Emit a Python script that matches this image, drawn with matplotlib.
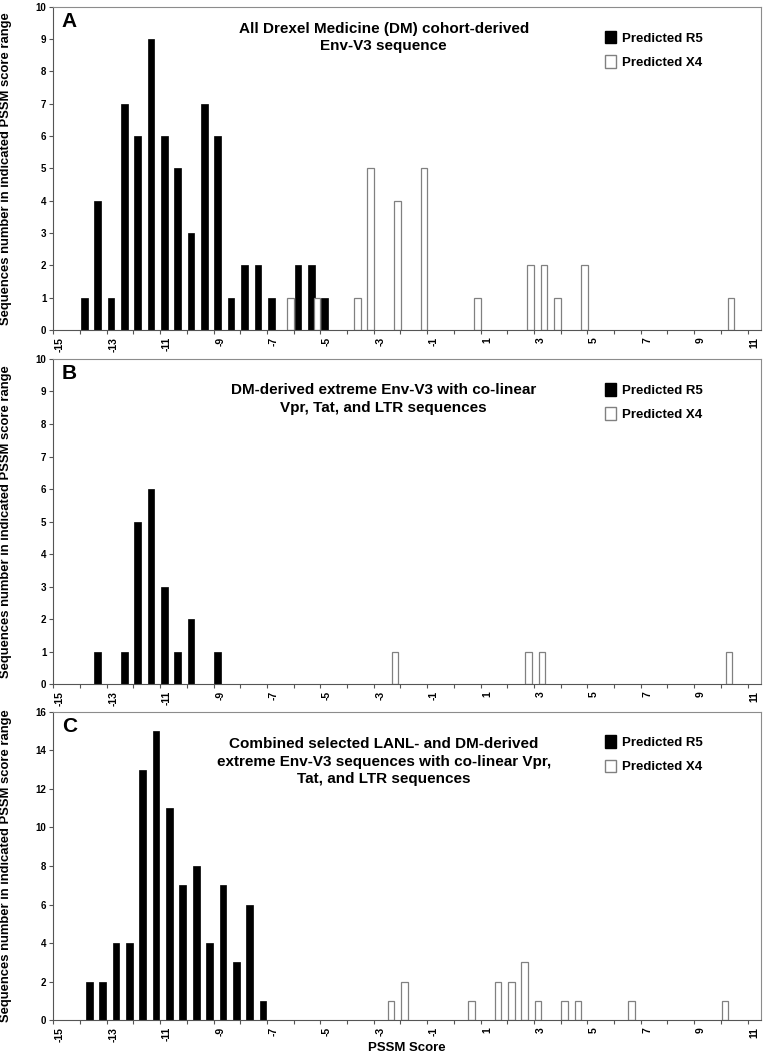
import matplotlib.pyplot as plt
from matplotlib.patches import Patch
import numpy as np

# PSSM score bins (0.5 wide) and sequence counts
a_r5_bins = [-14, -13.5, -13, -12.5, -12, -11.5, -11, -10.5, -10, -9.5, -9, -8.5, -8, -7.5, -7, -6, -5.5, -5]
a_r5_counts = [1, 4, 1, 7, 6, 9, 6, 5, 3, 7, 6, 1, 2, 2, 1, 2, 2, 1]
a_x4_bins = [-6.5, -5.5, -4, -3.5, -2.5, -1.5, 0.5, 2.5, 3, 3.5, 4.5, 10]
a_x4_counts = [1, 1, 1, 5, 4, 5, 1, 2, 2, 1, 2, 1]

b_r5_bins = [-13.5, -12.5, -12, -11.5, -11, -10.5, -10, -9]
b_r5_counts = [1, 1, 5, 6, 3, 1, 2, 1]
b_x4_bins = [-2.5, 2.5, 3, 10]
b_x4_counts = [1, 1, 1, 1]

c_r5_bins = [-14, -13.5, -13, -12.5, -12, -11.5, -11, -10.5, -10, -9.5, -9, -8.5, -8, -7.5]
c_r5_counts = [2, 2, 4, 4, 13, 15, 11, 7, 8, 4, 7, 3, 6, 1]
c_x4_bins = [-2.5, -2, 0.5, 1.5, 2, 2.5, 3, 4, 4.5, 6.5, 10]
c_x4_counts = [1, 2, 1, 2, 2, 3, 1, 1, 1, 1, 1]

letters = ["A", "B", "C"]
titles = [
    "All Drexel Medicine (DM) cohort-derived\nEnv-V3 sequence",
    "DM-derived extreme Env-V3 with co-linear\nVpr, Tat, and LTR sequences",
    "Combined selected LANL- and DM-derived\nextreme Env-V3 sequences with co-linear Vpr,\nTat, and LTR sequences",
]
xticklabels = [str(v) for v in range(-15, 12, 2)]
ylabel = "Sequences number in indicated PSSM score range"

plt.rcParams['font.family'] = ["Liberation Sans", "DejaVu Sans"]

panels = [
    (a_r5_bins, a_r5_counts, a_x4_bins, a_x4_counts, 10, 1, -0.09, 0.13),
    (b_r5_bins, b_r5_counts, b_x4_bins, b_x4_counts, 10, 1, -0.09, 0.05),
    (c_r5_bins, c_r5_counts, c_x4_bins, c_x4_counts, 16, 2, 0.10, -0.10),
]
# axes boxes in figure fractions [left, bottom, width, height]
boxes = [
    [0.0697, 0.6893, 0.925, 0.3044],
    [0.0697, 0.3557, 0.925, 0.3063],
    [0.0697, 0.0395, 0.925, 0.2901],
]
title_y = [0.953, 0.926, 0.918]

fig = plt.figure(figsize=(7.65, 10.62), dpi=100)
w = 0.25
for i, (rb, rc, xb, xc, ymax, ystep, roff, xoff) in enumerate(panels):
    ax = fig.add_axes(boxes[i])
    ax.bar(np.array(rb) + roff, rc, width=w, color='black', edgecolor='black', linewidth=0.5)
    ax.bar(np.array(xb) + xoff, xc, width=w, color='white', edgecolor='#808080', linewidth=0.9)

    ax.set_xlim(-15.25, 11.25)
    ax.set_ylim(0, ymax)
    ax.set_xticks(range(-15, 12, 2))
    ax.set_xticklabels(xticklabels, rotation=90, fontsize=7.5, fontweight='bold')
    ax.set_xticks(np.arange(-15.25, 11.3, 1.0), minor=True)
    ax.tick_params(axis='x', which='major', length=0, pad=5)
    ax.tick_params(axis='x', which='minor', length=3, direction='out', width=0.8, color='#555555')
    ax.set_yticks(range(0, ymax + 1, ystep))
    ax.tick_params(axis='y', length=3, direction='out', width=0.8, color='#555555', labelsize=7, pad=2)
    for t in ax.get_yticklabels():
        t.set_fontweight('bold')
    for s in ['left', 'bottom']:
        ax.spines[s].set_color('#555555')
    for s in ['top', 'right']:
        ax.spines[s].set_color('#8c8c8c')

    ax.set_ylabel(ylabel, fontsize=9.4, fontweight='bold')
    ax.yaxis.set_label_coords(-0.058, 0.5)

    ax.text(0.012, 0.985, letters[i], transform=ax.transAxes, fontsize=15,
            fontweight='bold', va='top', ha='left')
    ax.text(0.467, title_y[i], titles[i], transform=ax.transAxes, fontsize=11,
            fontweight='bold', va='top', ha='center', linespacing=1.32)

    handles = [Patch(facecolor='black', edgecolor='black'),
               Patch(facecolor='white', edgecolor='#808080')]
    ax.legend(handles, ["Predicted R5", "Predicted X4"], loc='upper left',
              bbox_to_anchor=(0.77, 0.946), frameon=False,
              prop={'weight': 'bold', 'size': 9.5}, handlelength=0.85,
              handleheight=1.1, handletextpad=0.45, labelspacing=0.8, borderpad=0)

fig.text(0.532, 0.008, "PSSM Score", fontsize=9.5, fontweight='bold', ha='center', va='bottom')

fig.savefig("out.png", dpi=100)
